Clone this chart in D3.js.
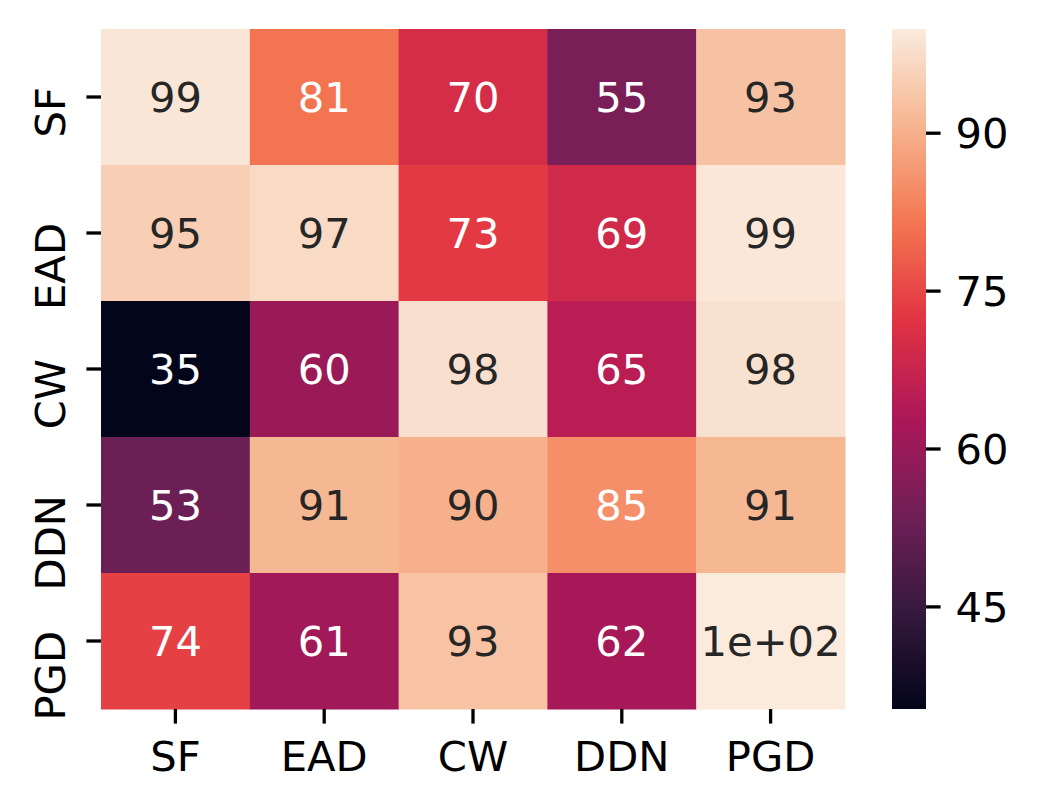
<!DOCTYPE html>
<html><head><meta charset="utf-8">
<script src="https://cdn.jsdelivr.net/npm/d3@7"></script>
<style>html,body{margin:0;padding:0;background:#fff}svg{display:block}text{font-family:"DejaVu Sans",sans-serif}</style>
</head><body><svg id="c" width="1037" height="810"></svg>
<script>
const rows = ["SF","EAD","CW","DDN","PGD"];
const cols = ["SF","EAD","CW","DDN","PGD"];
const values = [
  [99.1, 81.2, 70.1, 55.2, 93.1],
  [95.2, 97.1, 73.1, 69.2, 99.2],
  [35.3, 60.1, 98.1, 65.1, 98.2],
  [53.1, 91.1, 90.2, 85.1, 91.2],
  [74.1, 61.2, 93.2, 62.1, 99.9]
];
const cbarTicks = [45, 60, 75, 90];
const rocketStops = ["#03051a","#35193e","#701f57","#ad1759","#e13342","#f37651","#f6b48f","#faebdd"];

const svg = d3.select("#c");
const FS = 41.7;
const flat = values.flat();
const vmin = d3.min(flat), vmax = d3.max(flat);

const x = d3.scaleBand().domain(cols).range([101, 845]);
const y = d3.scaleBand().domain(rows).range([29, 709]);
const interp = d3.piecewise(d3.interpolateRgb, rocketStops);
const color = d3.scaleSequential(interp).domain([vmin, vmax]);

function pyFmt2g(v){
  let s = v.toPrecision(2);
  if (s.includes("e")) {
    let [m, e] = s.split("e");
    if (m.includes(".")) m = m.replace(/0+$/,"").replace(/\.$/,"");
    const sign = e[0] === "-" ? "-" : "+";
    let d = e.replace(/^[+-]/,"");
    if (d.length < 2) d = "0" + d;
    return m + "e" + sign + d;
  }
  if (s.includes(".")) s = s.replace(/0+$/,"").replace(/\.$/,"");
  return s;
}
function lum(c){
  const r = d3.rgb(c);
  const f = u => { u/=255; return u <= 0.03928 ? u/12.92 : Math.pow((u+0.055)/1.055, 2.4); };
  return 0.2126*f(r.r) + 0.7152*f(r.g) + 0.0722*f(r.b);
}

const cells = [];
values.forEach((row,i)=>row.forEach((v,j)=>cells.push({r:rows[i], c:cols[j], v})));

svg.append("g").selectAll("rect").data(cells).join("rect")
  .attr("x", d=>x(d.c)).attr("y", d=>y(d.r))
  .attr("width", x.bandwidth()+0.5).attr("height", y.bandwidth()+0.5)
  .attr("fill", d=>color(d.v));

svg.append("g").selectAll("text").data(cells).join("text")
  .attr("x", d=>x(d.c)+x.bandwidth()/2)
  .attr("y", d=>y(d.r)+y.bandwidth()/2)
  .attr("text-anchor","middle").attr("dy","0.35em")
  .attr("font-size", FS)
  .attr("fill", d=> lum(color(d.v)) > 0.408 ? "#262626" : "#ffffff")
  .text(d=>pyFmt2g(d.v));

// x axis
const xa = svg.append("g");
cols.forEach(c=>{
  const cx = x(c)+x.bandwidth()/2;
  xa.append("line").attr("x1",cx).attr("x2",cx).attr("y1",709).attr("y2",723.6).attr("stroke","#000").attr("stroke-width",3.3);
  xa.append("text").attr("x",cx).attr("y",771).attr("text-anchor","middle").attr("font-size",FS).attr("fill","#000").text(c);
});
// y axis
const ya = svg.append("g");
rows.forEach(r=>{
  const cy = y(r)+y.bandwidth()/2;
  ya.append("line").attr("x1",86.4).attr("x2",101).attr("y1",cy).attr("y2",cy).attr("stroke","#000").attr("stroke-width",3.3);
  ya.append("text").attr("transform",`translate(65,${cy-10}) rotate(-90)`).attr("text-anchor","end").attr("font-size",FS).attr("fill","#000").text(r);
});

// colorbar
const cb = d3.scaleLinear().domain([vmin, vmax]).range([709, 29]);
const defs = svg.append("defs");
const grad = defs.append("linearGradient").attr("id","g").attr("x1",0).attr("y1",1).attr("x2",0).attr("y2",0);
d3.range(0,1.0001,0.02).forEach(t=>grad.append("stop").attr("offset",t).attr("stop-color",interp(t)));
svg.append("rect").attr("x",892).attr("y",cb(vmax)).attr("width",34).attr("height",cb(vmin)-cb(vmax)).attr("fill","url(#g)");
const cba = svg.append("g");
cbarTicks.forEach(t=>{
  const ty = cb(t);
  cba.append("line").attr("x1",926).attr("x2",940.6).attr("y1",ty).attr("y2",ty).attr("stroke","#000").attr("stroke-width",3.3);
  cba.append("text").attr("x",955.5).attr("y",ty).attr("dy","0.36em").attr("font-size",FS).attr("fill","#000").text(t);
});
</script></body></html>
